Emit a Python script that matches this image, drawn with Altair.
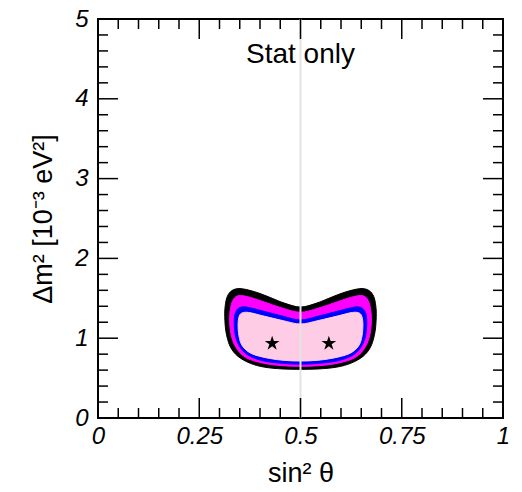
import altair as alt
import pandas as pd

# Confidence-region outlines in (sin^2 theta, dm^2 [1e-3 eV^2]), traced clockwise
# from the top centre.  Outer to inner: black, magenta, blue, pink.
black_x = [0.500, 0.540, 0.570, 0.600, 0.628, 0.652, 0.670, 0.681, 0.686, 0.687, 0.684,
           0.674, 0.655, 0.625, 0.590, 0.545, 0.500, 0.455, 0.410, 0.375, 0.345, 0.326,
           0.316, 0.313, 0.314, 0.319, 0.330, 0.348, 0.372, 0.400, 0.430, 0.460]
black_y = [1.390, 1.440, 1.500, 1.560, 1.603, 1.622, 1.595, 1.520, 1.400, 1.270, 1.080,
           0.900, 0.775, 0.688, 0.638, 0.615, 0.610, 0.615, 0.638, 0.688, 0.775, 0.900,
           1.080, 1.270, 1.400, 1.520, 1.595, 1.622, 1.603, 1.560, 1.500, 1.440]

magenta_x = [0.500, 0.543, 0.593, 0.623, 0.648, 0.662, 0.671, 0.675, 0.672, 0.660, 0.636,
             0.595, 0.545, 0.500, 0.455, 0.405, 0.364, 0.340, 0.328, 0.325, 0.329, 0.338,
             0.352, 0.377, 0.407, 0.457]
magenta_y = [1.325, 1.375, 1.460, 1.510, 1.535, 1.510, 1.420, 1.260, 1.060, 0.890, 0.760,
             0.690, 0.655, 0.648, 0.655, 0.690, 0.760, 0.890, 1.060, 1.260, 1.420, 1.510,
             1.535, 1.510, 1.460, 1.375]

blue_x = [0.500, 0.543, 0.593, 0.623, 0.643, 0.656, 0.663, 0.662, 0.653, 0.633, 0.595,
          0.545, 0.500, 0.455, 0.405, 0.367, 0.347, 0.338, 0.337, 0.344, 0.357, 0.377,
          0.407, 0.457]
blue_y = [1.228, 1.275, 1.340, 1.380, 1.392, 1.360, 1.260, 1.070, 0.920, 0.800, 0.720,
          0.685, 0.675, 0.685, 0.720, 0.800, 0.920, 1.070, 1.260, 1.360, 1.392, 1.380,
          1.340, 1.275]

pink_x = [0.500, 0.543, 0.593, 0.623, 0.640, 0.650, 0.654, 0.652, 0.643, 0.620, 0.580,
          0.540, 0.500, 0.460, 0.420, 0.380, 0.357, 0.348, 0.346, 0.350, 0.360, 0.377,
          0.407, 0.457]
pink_y = [1.178, 1.220, 1.280, 1.318, 1.323, 1.290, 1.190, 1.030, 0.900, 0.805, 0.750,
          0.722, 0.714, 0.722, 0.750, 0.805, 0.900, 1.030, 1.190, 1.290, 1.323, 1.318,
          1.280, 1.220]

# Best-fit points
best_x = [0.430, 0.570]
best_y = [0.935, 0.935]

# Axis ticks
x_major = [0, 0.25, 0.5, 0.75, 1]
x_minor = [0.05, 0.1, 0.15, 0.2, 0.3, 0.35, 0.4, 0.45, 0.55, 0.6, 0.65, 0.7,
           0.8, 0.85, 0.9, 0.95]
y_major = [0, 1, 2, 3, 4, 5]
y_minor = [0.2, 0.4, 0.6, 0.8, 1.2, 1.4, 1.6, 1.8, 2.2, 2.4, 2.6, 2.8,
           3.2, 3.4, 3.6, 3.8, 4.2, 4.4, 4.6, 4.8]

W, H = 405, 399
FONT = "Liberation Sans"
MAJOR_LEN, MINOR_LEN = 20, 10

# five-pointed star symbol in the unit square [-1, 1]
STAR = ("M0,-1L0.225,-0.309L0.951,-0.309L0.363,0.118L0.588,0.809L0,0.382"
        "L-0.588,0.809L-0.363,0.118L-0.951,-0.309L-0.225,-0.309Z")

x_scale = alt.Scale(domain=[0, 1], nice=False, zero=False)
y_scale = alt.Scale(domain=[0, 5], nice=False, zero=False)

x_axis = alt.Axis(values=x_major, format=".2~f", labelFont=FONT, labelFontSize=24,
                  labelFontStyle="italic", labelColor="black", labelPadding=6,
                  labelFlush=False, labelOverlap=False, ticks=False, domain=False,
                  grid=False, title="sin² θ", titleFont=FONT, titleFontSize=27,
                  titleFontWeight="normal", titleColor="black", titlePadding=12)
y_axis = alt.Axis(values=y_major, format="d", labelFont=FONT, labelFontSize=24,
                  labelFontStyle="italic", labelColor="black", labelPadding=10,
                  labelFlush=False, labelOverlap=False, ticks=False, domain=False,
                  grid=False, title="Δm² [10⁻³ eV²]", titleFont=FONT, titleFontSize=27,
                  titleFontWeight="normal", titleColor="black", titlePadding=17)


def X(field):
    return alt.X(field, scale=x_scale, axis=x_axis)


def Y(field):
    return alt.Y(field, scale=y_scale, axis=y_axis)


def region(xs, ys, color):
    df = pd.DataFrame({"i": list(range(len(xs))), "s2": xs, "dm2": ys})
    return alt.Chart(df).mark_line(
        interpolate="cardinal-closed", fill=color, stroke=color, strokeWidth=1
    ).encode(x=X("s2:Q"), y=Y("dm2:Q"), order=alt.Order("i:Q"))


regions = (region(black_x, black_y, "#000000")
           + region(magenta_x, magenta_y, "#ff00ff")
           + region(blue_x, blue_y, "#0000ff")
           + region(pink_x, pink_y, "#ffcce6"))

centre_line = alt.Chart(pd.DataFrame({"s2": [0.5]})).mark_rule(
    color="#e3e3e3", strokeWidth=2
).encode(x=X("s2:Q"))

stars = alt.Chart(pd.DataFrame({"s2": best_x, "dm2": best_y})).mark_point(
    shape=STAR, filled=True, color="black", opacity=1, size=240
).encode(x=X("s2:Q"), y=Y("dm2:Q"))

label = alt.Chart(pd.DataFrame({"s2": [0.5], "dm2": [4.45], "t": ["Stat only"]})).mark_text(
    font=FONT, fontSize=28, color="black", align="center", baseline="alphabetic"
).encode(x=X("s2:Q"), y=Y("dm2:Q"), text="t:N")


def x_ticks(vals, length):
    df = pd.DataFrame({"s2": vals})
    base = alt.Chart(df).mark_rule(color="black", strokeWidth=1.5)
    bottom = base.encode(x=X("s2:Q"), y=alt.value(H), y2=alt.value(H - length))
    top = base.encode(x=X("s2:Q"), y=alt.value(0), y2=alt.value(length))
    return bottom + top


def y_ticks(vals, length):
    df = pd.DataFrame({"dm2": vals})
    base = alt.Chart(df).mark_rule(color="black", strokeWidth=1.5)
    left = base.encode(y=Y("dm2:Q"), x=alt.value(0), x2=alt.value(length))
    right = base.encode(y=Y("dm2:Q"), x=alt.value(W), x2=alt.value(W - length))
    return left + right


ticks = (x_ticks(x_major, MAJOR_LEN) + x_ticks(x_minor, MINOR_LEN)
         + y_ticks(y_major, MAJOR_LEN) + y_ticks(y_minor, MINOR_LEN))

chart = alt.layer(regions, centre_line, stars, label, ticks).properties(
    width=W,
    height=H,
    autosize=alt.AutoSizeParams(type="none"),
    padding={"left": 98, "top": 19, "right": 19, "bottom": 74},
).configure_view(stroke="black", strokeWidth=2)

chart.save("out.html", embed_options={"renderer": "svg", "actions": False})
